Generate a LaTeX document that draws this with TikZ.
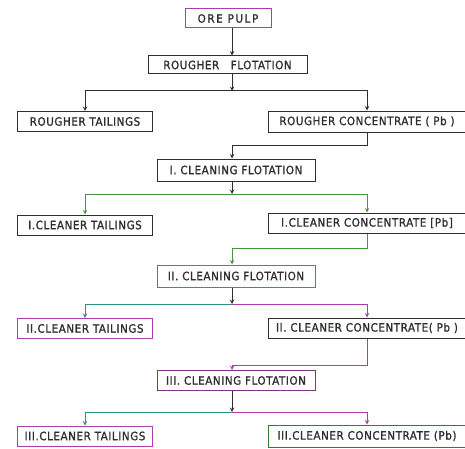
\documentclass[tikz,border=0pt]{standalone}
\usepackage{fontspec}
\newfontfamily\stencil[LetterSpace=5,FakeBold=1.2]{DejaVu Sans Condensed}
\newfontfamily\widestencil[LetterSpace=14,FakeBold=1.2]{DejaVu Sans Condensed}
\usetikzlibrary{positioning,arrows}

\definecolor{ink}{RGB}{45,45,50}
\definecolor{mag}{RGB}{175,60,175}
\definecolor{grn}{RGB}{70,150,60}
\definecolor{teal}{RGB}{40,150,130}

\begin{document}
\begin{tikzpicture}[x=1pt,y=1pt,
    box/.style={draw=ink, line width=1pt, minimum height=20pt, inner sep=2pt,
        text=ink, font=\stencil\fontsize{11.5}{13}\selectfont},
    lbox/.style={box, minimum width=135pt, anchor=west},
    rbox/.style={box, minimum width=197pt, anchor=west},
    cbox/.style={box, minimum width=158pt},
    link/.style={line width=1pt, -stealth}]
\useasboundingbox (0,0) rectangle (465,448);
% feed and rougher stage
\node[box, draw=mag, minimum width=86pt, minimum height=19pt,
    font=\widestencil\fontsize{11.5}{13}\selectfont] (ore) at (228,429.5) {ORE PULP};
\node[box, minimum width=159pt, minimum height=18pt] (rougher) at (227.5,383) {ROUGHER \ \ FLOTATION};
\node[lbox] (rtail) at (17,326.5) {ROUGHER TAILINGS};
\node[rbox, minimum height=21pt] (rconc) at (268,326.5) {ROUGHER CONCENTRATE ( Pb )};
% cleaning stages
\node[cbox, minimum height=22pt] (clean1) at (236,278) {I. CLEANING FLOTATION};
\node[lbox] (tail1) at (17,223) {I.CLEANER TAILINGS};
\node[rbox] (conc1) at (268,225) {I.CLEANER CONCENTRATE [Pb]};
\node[cbox, draw=grn, minimum height=22pt] (clean2) at (236,172) {II. CLEANING FLOTATION};
\node[lbox, draw=mag] (tail2) at (17,119.5) {II.CLEANER TAILINGS};
\node[rbox] (conc2) at (268,120) {II. CLEANER CONCENTRATE( Pb )};
\node[cbox, draw=mag!60!ink] (clean3) at (236,67.5) {III. CLEANING FLOTATION};
\node[lbox, draw=mag] (tail3) at (17,12) {III.CLEANER TAILINGS};
\node[rbox, draw=grn!70!ink, minimum height=22pt] (conc3) at (268,12) {III.CLEANER CONCENTRATE (Pb)};
% junctions
\coordinate (spine) at (232,0);
\coordinate (j1) at (232,357);
\coordinate (j2) at (232,254);
\coordinate (j3) at (232,144);
\coordinate (j4) at (232,36);
\coordinate (t1) at (232,303);
\coordinate (t2) at (232,200);
\coordinate (t3) at (232,83);

\draw[link, ink] (ore.south -| spine) -- (rougher.north -| spine);
\foreach \up/\jn/\tl/\cn/\cl/\cr in {rougher/j1/rtail/rconc/ink/ink,
        clean1/j2/tail1/conc1/grn/grn, clean2/j3/tail2/conc2/teal/mag,
        clean3/j4/tail3/conc3/teal/mag}
    {
    \draw[link, ink] (\up.south -| spine) -- (\jn);
    \draw[link, \cl] (\jn) -| (\tl.north);
    \draw[link, \cr] (\jn) -| (\cn.north);
    }
\foreach \cn/\tn/\dn/\cl in {rconc/t1/clean1/ink, conc1/t2/clean2/grn, conc2/t3/clean3/mag}
    {
    \draw[link, \cl] (\cn.south) |- (\tn) -- (\dn.north -| spine);
    }
\end{tikzpicture}
\end{document}
